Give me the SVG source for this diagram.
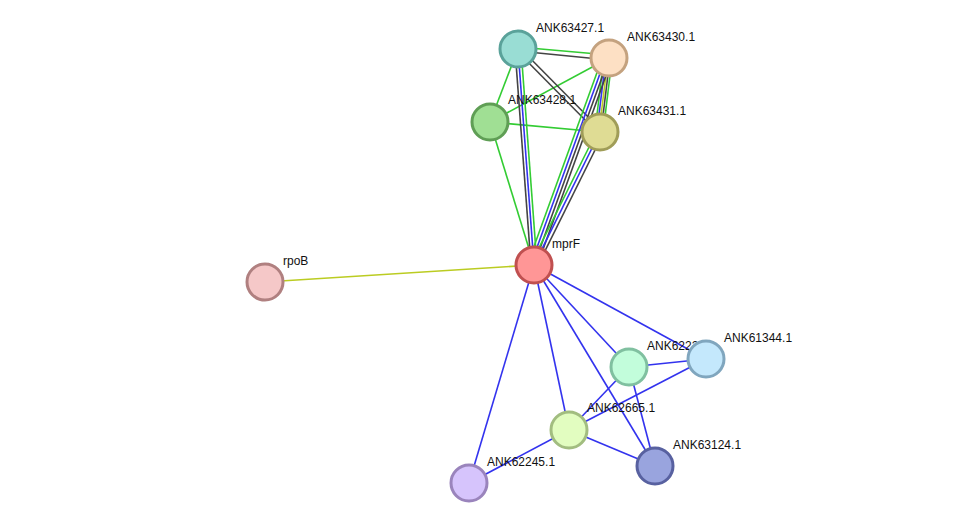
<svg xmlns="http://www.w3.org/2000/svg" width="975" height="529" viewBox="0 0 975 529">
<style>
text{font-family:"Liberation Sans",Arial,sans-serif;font-size:12px;fill:#111}
circle{stroke-width:3}
.g{stroke:#33cc33;stroke-width:1.6}
.k{stroke:#444;stroke-width:1.6}
.b{stroke:#3333ee;stroke-width:1.6}
.y{stroke:#bbcc22;stroke-width:1.6}
</style>
<rect width="975" height="529" fill="#fff"/>
<g id="edges" fill="none">
<line class="y" x1="265" y1="282" x2="534" y2="265"/>
<line class="g" x1="518" y1="47" x2="609" y2="55"/>
<line class="k" x1="518" y1="51" x2="609" y2="60"/>
<line class="g" x1="518" y1="49" x2="490" y2="122"/>
<line class="g" x1="609" y1="58" x2="490" y2="122"/>
<line class="g" x1="490" y1="122" x2="600" y2="132"/>
<line class="g" x1="490" y1="122" x2="534" y2="265"/>
<line class="k" x1="516" y1="50" x2="598" y2="133"/>
<line class="k" x1="520" y1="48" x2="602" y2="131"/>
<line class="k" x1="515" y1="49" x2="531" y2="265"/>
<line class="b" x1="518" y1="49" x2="534" y2="265"/>
<line class="g" x1="521" y1="49" x2="537" y2="265"/>
<line class="g" x1="604" y1="57" x2="595" y2="131"/>
<line class="b" x1="606" y1="57" x2="597" y2="131"/>
<line class="y" x1="608" y1="58" x2="599" y2="132"/>
<line class="k" x1="610" y1="58" x2="601" y2="132"/>
<line class="g" x1="612" y1="59" x2="603" y2="133"/>
<line class="g" x1="603" y1="56" x2="528" y2="263"/>
<line class="b" x1="606" y1="57" x2="531" y2="264"/>
<line class="k" x1="609" y1="58" x2="534" y2="265"/>
<line class="k" x1="612" y1="59" x2="537" y2="266"/>
<line class="g" x1="597" y1="131" x2="531" y2="264"/>
<line class="b" x1="600" y1="132" x2="534" y2="265"/>
<line class="k" x1="603" y1="134" x2="537" y2="267"/>
<line class="b" x1="534" y1="265" x2="629" y2="367"/>
<line class="b" x1="534" y1="265" x2="706" y2="359"/>
<line class="b" x1="534" y1="265" x2="569" y2="430"/>
<line class="b" x1="534" y1="265" x2="655" y2="466"/>
<line class="b" x1="534" y1="265" x2="469" y2="483"/>
<line class="b" x1="629" y1="367" x2="706" y2="359"/>
<line class="b" x1="629" y1="367" x2="569" y2="430"/>
<line class="b" x1="629" y1="367" x2="655" y2="466"/>
<line class="b" x1="706" y1="359" x2="569" y2="430"/>
<line class="b" x1="569" y1="430" x2="655" y2="466"/>
<line class="b" x1="569" y1="430" x2="469" y2="483"/>
</g>
<g id="n427"><circle cx="518" cy="49" r="18" fill="#99ddd4" stroke="#5aa29a"/><text x="536" y="32">ANK63427.1</text></g>
<g id="n430"><circle cx="609" cy="58" r="18" fill="#fde0c4" stroke="#c4a27f"/><text x="627" y="41">ANK63430.1</text></g>
<g id="n428"><circle cx="490" cy="122" r="18" fill="#a0df94" stroke="#5f9e55"/><text x="508" y="104">ANK63428.1</text></g>
<g id="n431"><circle cx="600" cy="132" r="18" fill="#dfdc94" stroke="#a09d58"/><text x="618" y="115">ANK63431.1</text></g>
<g id="mprF"><circle cx="534" cy="265" r="18" fill="#ff9696" stroke="#c05050"/><text x="552" y="248">mprF</text></g>
<g id="rpoB"><circle cx="265" cy="282" r="18" fill="#f5c8c8" stroke="#b08080"/><text x="283" y="265">rpoB</text></g>
<g id="n622"><text x="647" y="350">ANK62227.1</text><circle cx="629" cy="367" r="18" fill="#c2fddb" stroke="#80c0a0"/></g>
<g id="n61344"><circle cx="706" cy="359" r="18" fill="#c4e8fc" stroke="#80a6be"/><text x="724" y="342">ANK61344.1</text></g>
<g id="n62665"><circle cx="569" cy="430" r="18" fill="#e2fdc0" stroke="#a2bd80"/><text x="587" y="412">ANK62665.1</text></g>
<g id="n63124"><circle cx="655" cy="466" r="18" fill="#99a4de" stroke="#5861a0"/><text x="673" y="449">ANK63124.1</text></g>
<g id="n62245"><circle cx="469" cy="483" r="18" fill="#d6c4fc" stroke="#9a84bc"/><text x="487" y="466">ANK62245.1</text></g>
</svg>
